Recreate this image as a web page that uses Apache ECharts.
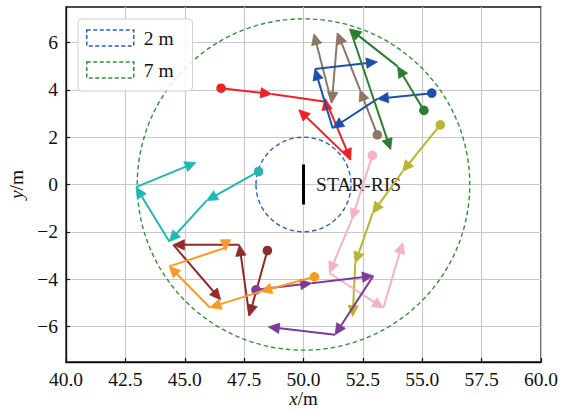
<!DOCTYPE html>
<html><head><meta charset="utf-8">
<script src="https://cdn.jsdelivr.net/npm/echarts@6/dist/echarts.min.js"></script>
<style>html,body{margin:0;padding:0;background:#fff}#c{width:571px;height:411px}</style>
</head><body><div id="c"></div>
<script>
// ---- data ----
const yTickValues = [-6, -4, -2, 0, 2, 4, 6];
const ringNames = ['2 m', '7 m'];
const ringData = [[50, 0, 2], [50, 0, 7]];
const risSegment = [[50, -0.85], [50, 0.85]];
const risLabel = 'STAR-RIS';

const trajNames = ['brown', 'red', 'blue', 'green', 'olive', 'pink', 'cyan', 'darkred', 'purple', 'orange'];
const trajBrown   = [[53.11, 2.10], [52.38, 4.00], [51.44, 6.40], [51.19, 3.44], [50.44, 6.37]];
const trajRed     = [[46.53, 4.07], [48.66, 3.82], [50.91, 3.62], [51.99, 1.04], [49.80, 3.16]];
const trajBlue    = [[55.40, 3.86], [53.11, 3.62], [51.23, 2.38], [50.48, 4.88], [53.11, 5.18]];
const trajGreen   = [[55.07, 3.13], [53.96, 4.99], [51.96, 6.57], [53.67, 1.47]];
const trajOlive   = [[55.76, 2.52], [54.17, 0.55], [52.91, -1.21], [52.18, -3.32], [52.07, -5.58]];
const trajPink    = [[52.90, 1.23], [52.03, -1.49], [51.09, -3.74], [53.36, -5.22], [54.18, -2.45]];
const trajCyan    = [[48.11, 0.55], [45.92, -0.68], [44.35, -2.41], [42.95, -0.11], [45.47, 0.93]];
const trajDarkred = [[48.48, -2.79], [47.72, -5.55], [47.30, -2.55], [44.52, -2.55], [46.51, -4.87]];
const trajPurple  = [[48.00, -4.45], [50.34, -4.17], [52.94, -3.86], [51.33, -6.35], [48.52, -6.02]];
const trajOrange  = [[50.46, -3.90], [48.20, -4.52], [46.06, -5.20], [44.35, -3.46], [46.72, -2.80]];
// heading overrides (degrees, 0 = +x, 90 = +y); null = follow segment
const headRed    = [null, null, 100, null, null];
const headOrange = [null, null, null, null, 270];

// ---- styles ----
const FONT = 'Liberation Serif';
const trajList = [
  [trajBrown, '#8e7765', null],
  [trajRed, '#ec2227', headRed],
  [trajBlue, '#1f50a8', null],
  [trajGreen, '#2e7d32', null],
  [trajOlive, '#b8b530', null],
  [trajPink, '#f4b3c2', null],
  [trajCyan, '#22b7b0', null],
  [trajDarkred, '#8e2b2b', null],
  [trajPurple, '#7d3c98', null],
  [trajOrange, '#f89a2a', headOrange]
];
const ringColors = ['#2f5fb3', '#3b8a3b'];

function ringRender(color) {
  return function (params, api) {
    const c = api.coord([api.value(0), api.value(1)]);
    const s = api.size([api.value(2), api.value(2)]);
    return {
      type: 'ellipse',
      shape: { cx: c[0], cy: c[1], rx: s[0], ry: s[1] },
      style: { fill: 'none', stroke: color, lineWidth: 1.4, lineDash: [4.5, 3] }
    };
  };
}

function trajRender(color, headings) {
  const L = 11, W = 5.2;
  return function (params, api) {
    const i = params.dataIndexInside;
    const p = api.coord([api.value(0, i), api.value(1, i)]);
    if (i === 0) {
      return { type: 'circle', shape: { cx: p[0], cy: p[1], r: 4.8 }, style: { fill: color }, z2: 5 };
    }
    const q = api.coord([api.value(0, i - 1), api.value(1, i - 1)]);
    let dx, dy;
    const h = headings ? headings[params.dataIndex] : null;
    if (h !== null && h !== undefined) {
      const a = h * Math.PI / 180;
      dx = Math.cos(a); dy = -Math.sin(a);
    } else {
      dx = p[0] - q[0]; dy = p[1] - q[1];
      const n = Math.hypot(dx, dy) || 1;
      dx /= n; dy /= n;
    }
    const bx = p[0] - dx * L, by = p[1] - dy * L;
    const nx = -dy, ny = dx;
    return {
      type: 'group',
      children: [
        { type: 'line', shape: { x1: q[0], y1: q[1], x2: p[0] - dx * 3, y2: p[1] - dy * 3 },
          style: { stroke: color, lineWidth: 2, lineCap: 'butt' } },
        { type: 'polygon', shape: { points: [[p[0], p[1]], [bx + nx * W, by + ny * W], [bx - nx * W, by - ny * W]] },
          style: { fill: color, stroke: color, lineWidth: 0.8, lineJoin: 'miter' } }
      ]
    };
  };
}

const series = [];
ringNames.forEach((nm, k) => {
  series.push({
    type: 'custom', name: nm, data: [ringData[k]], renderItem: ringRender(ringColors[k]),
    itemStyle: { color: ringColors[k] }, silent: true, z: 2
  });
});
series.push({
  type: 'line', data: risSegment, symbol: 'none', silent: true,
  lineStyle: { color: '#000', width: 3 }, z: 3
});
series.push({
  type: 'custom', data: [[50.53, 0]], silent: true, z: 3,
  renderItem: function (params, api) {
    const c = api.coord([api.value(0), api.value(1)]);
    return { type: 'text', x: c[0], y: c[1],
      style: { text: risLabel, fill: '#1a1a1a', font: '19.5px "Liberation Serif"', textAlign: 'left', textVerticalAlign: 'middle' } };
  }
});
trajList.forEach((t, k) => {
  series.push({
    type: 'custom', data: t[0], renderItem: trajRender(t[1], t[2]),
    silent: true, z: 4 + k, clip: false
  });
});

const chart = echarts.init(document.getElementById('c'), null, { renderer: 'svg' });
chart.setOption({
  animation: false,
  backgroundColor: '#fff',
  grid: { left: 66, right: 30, top: 7, bottom: 49, outerBoundsMode: 'none', containLabel: false,
    show: true, borderColor: '#111', borderWidth: 1.3, backgroundColor: 'transparent' },
  legend: {
    orient: 'vertical', left: 78, top: 19, padding: [9, 19, 11, 8],
    itemWidth: 47, itemHeight: 16, itemGap: 12,
    backgroundColor: 'rgba(255,255,255,0.85)', borderColor: '#d0d0d0', borderWidth: 1, borderRadius: 4,
    textStyle: { fontFamily: FONT, fontSize: 19.5, color: '#111', padding: [0, 0, 0, 5] },
    data: [
      { name: ringNames[0], icon: 'rect', itemStyle: { color: 'rgba(0,0,0,0)', borderColor: ringColors[0], borderWidth: 1.5, borderType: [4, 2.5] } },
      { name: ringNames[1], icon: 'rect', itemStyle: { color: 'rgba(0,0,0,0)', borderColor: ringColors[1], borderWidth: 1.5, borderType: [4, 2.5] } }
    ]
  },
  xAxis: {
    type: 'value', min: 40, max: 60, interval: 2.5,
    name: '{i|x}/m', nameLocation: 'middle', nameGap: 27, nameMoveOverlap: false,
    nameTextStyle: { fontFamily: FONT, fontSize: 19, lineHeight: 18, color: '#111', rich: { i: { fontFamily: FONT, fontSize: 19, lineHeight: 18, fontStyle: 'italic', color: '#111' } } },
    axisLine: { show: true, onZero: false, lineStyle: { color: '#111', width: 1.3 } },
    axisTick: { show: true, inside: true, length: 4, lineStyle: { color: '#111', width: 1.2 } },
    axisLabel: { fontFamily: FONT, fontSize: 19.5, color: '#111', margin: 7, formatter: v => v.toFixed(1) },
    splitLine: { show: true, lineStyle: { color: '#c8c8c8', width: 1.2 } }
  },
  yAxis: {
    type: 'value', min: -7.5, max: 7.5,
    name: '{i|y}/m', nameLocation: 'middle', nameGap: 40, nameRotate: 90, nameMoveOverlap: false,
    nameTextStyle: { fontFamily: FONT, fontSize: 19.5, color: '#111', rich: { i: { fontFamily: FONT, fontSize: 19.5, fontStyle: 'italic', color: '#111' } } },
    axisLine: { show: true, onZero: false, lineStyle: { color: '#111', width: 1.3 } },
    axisTick: { show: true, inside: true, length: 4, customValues: yTickValues, lineStyle: { color: '#111', width: 1.2 } },
    axisLabel: { fontFamily: FONT, fontSize: 19.5, color: '#111', margin: 8, customValues: yTickValues,
      formatter: v => (v < 0 ? '\u2212' : '') + Math.abs(v) },
    splitLine: { show: true, lineStyle: { color: '#c8c8c8', width: 1.2 } }
  },
  series: series
});
</script>
</body></html>
